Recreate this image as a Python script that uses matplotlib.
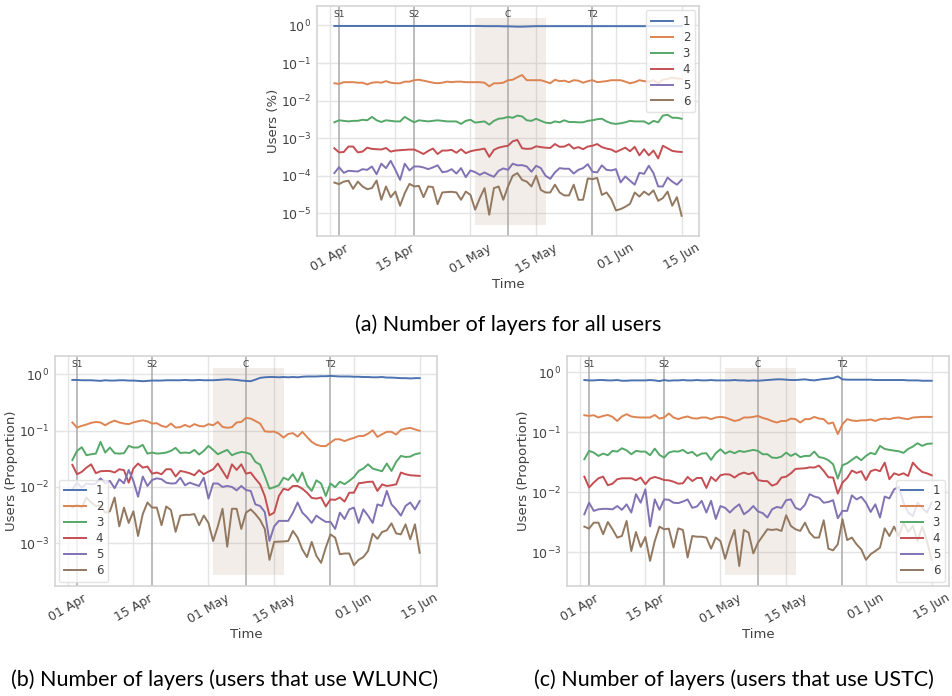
import matplotlib
matplotlib.use('Agg')
import matplotlib.pyplot as plt
import matplotlib.dates as mdates
import pandas as pd

# tanggal harian, 02 Apr - 15 Jun
dates = pd.date_range('2020-04-02', '2020-06-15', freq='D')

event_names = ['S1', 'S2', 'C', 'T2']
event_dates = ['2020-04-03', '2020-04-19', '2020-05-09', '2020-05-27']
shade_start, shade_end = '2020-05-02', '2020-05-17'
xtick_dates = ['2020-04-01', '2020-04-15', '2020-05-01', '2020-05-15', '2020-06-01', '2020-06-15']
layer_labels = ['1', '2', '3', '4', '5', '6']
colors = ['#4c72b0', '#dd8452', '#55a868', '#c44e52', '#8172b3', '#937860']

# (a) semua user
all_1 = [0.97, 0.97, 0.97, 0.97, 0.97, 0.97, 0.97, 0.97, 0.97, 0.97,
         0.97, 0.97, 0.97, 0.97, 0.97, 0.97, 0.97, 0.97, 0.97, 0.97,
         0.97, 0.97, 0.97, 0.97, 0.97, 0.97, 0.97, 0.97, 0.97, 0.97,
         0.97, 0.97, 0.96, 0.96, 0.96, 0.96, 0.95, 0.95, 0.94, 0.93,
         0.93, 0.94, 0.95, 0.96, 0.96, 0.96, 0.96, 0.96, 0.96, 0.96,
         0.96, 0.96, 0.96, 0.96, 0.96, 0.96, 0.96, 0.96, 0.96, 0.96,
         0.96, 0.96, 0.96, 0.96, 0.96, 0.96, 0.96, 0.96, 0.96, 0.96,
         0.96, 0.96, 0.96, 0.96, 0.96]
all_2 = [.029, .028, .031, .031, .031, .030, .030, .027, .030, .031,
         .030, .033, .030, .029, .029, .032, .032, .035, .036, .034,
         .032, .030, .029, .030, .032, .031, .032, .032, .031, .031,
         .031, .031, .030, .024, .029, .029, .030, .035, .036, .042,
         .048, .035, .035, .035, .035, .032, .029, .036, .033, .034,
         .031, .035, .034, .030, .033, .035, .031, .032, .033, .035,
         .035, .035, .032, .029, .031, .035, .033, .032, .035, .029,
         .036, .038, .041, .039, .038]
all_3 = [.00265, .0030, .0029, .0028, .0029, .0029, .0031, .0030, .0037, .0030,
         .0027, .0030, .0029, .0028, .0028, .0037, .0031, .00265, .0030, .0029,
         .0028, .0029, .0030, .0029, .0028, .0028, .0028, .0024, .0029, .0031,
         .0026, .0027, .0028, .0023, .0029, .0033, .0034, .0037, .0035, .0040,
         .0038, .0030, .0029, .0033, .0029, .0026, .0025, .0028, .00265, .0030,
         .0027, .0027, .00265, .00265, .0029, .0030, .0032, .0033, .0028, .0025,
         .0024, .0025, .00265, .0029, .0028, .0028, .0028, .0024, .0029, .00265,
         .0040, .0042, .0035, .0035, .0033]
all_4 = [5.4e-4, 4.2e-4, 4.3e-4, 6.0e-4, 6.0e-4, 4.2e-4, 4.4e-4, 5.6e-4, 5.2e-4, 5.1e-4,
         5.0e-4, 5.5e-4, 4.4e-4, 4.7e-4, 4.8e-4, 4.9e-4, 5.0e-4, 5.0e-4, 4.4e-4, 3.8e-4,
         4.6e-4, 5.3e-4, 3.8e-4, 4.7e-4, 4.7e-4, 4.9e-4, 4.1e-4, 5.1e-4, 4.0e-4, 4.5e-4,
         4.8e-4, 5.0e-4, 5.3e-4, 3.2e-4, 4.9e-4, 5.6e-4, 6.0e-4, 6.3e-4, 8.3e-4, 9.0e-4,
         5.4e-4, 5.2e-4, 5.3e-4, 6.1e-4, 5.8e-4, 5.6e-4, 5.5e-4, 7.0e-4, 5.9e-4, 6.0e-4,
         6.9e-4, 5.3e-4, 5.8e-4, 5.1e-4, 6.0e-4, 6.3e-4, 7.0e-4, 5.8e-4, 5.3e-4, 5.0e-4,
         4.3e-4, 4.9e-4, 5.6e-4, 4.5e-4, 5.9e-4, 3.5e-4, 5.1e-4, 3.5e-4, 4.7e-4, 2.9e-4,
         6.3e-4, 5.4e-4, 4.6e-4, 4.4e-4, 4.3e-4]
all_5 = [1.18e-4, 1.7e-4, 1.2e-4, 1.36e-4, 1.33e-4, 1.3e-4, 1.5e-4, 1.44e-4, 1.77e-4, 1.1e-4,
         2.1e-4, 1.6e-4, 2.5e-4, 1.44e-4, 0.78e-4, 2.1e-4, 1.39e-4, 1.77e-4, 1.77e-4, 1.67e-4,
         1.5e-4, 1.67e-4, 1.9e-4, 1.25e-4, 1.3e-4, 1.5e-4, 1.15e-4, 1.6e-4, 0.92e-4, 1.39e-4,
         1.25e-4, 1.06e-4, 1.23e-4, 1.06e-4, 0.94e-4, 1.36e-4, 1.57e-4, 1.44e-4, 2.1e-4, 1.9e-4,
         1.92e-4, 1.77e-4, 1.28e-4, 1.85e-4, 1.6e-4, 1.0e-4, 0.83e-4, 1.23e-4, 1.6e-4, 1.54e-4,
         1.54e-4, 1.15e-4, 1.44e-4, 1.6e-4, 2.04e-4, 1.28e-4, 1.23e-4, 1.9e-4, 1.44e-4, 1.39e-4,
         1.5e-4, 0.665e-4, 0.96e-4, 0.74e-4, 0.58e-4, 1.2e-4, 1.13e-4, 1.85e-4, 1.18e-4, 0.52e-4,
         0.52e-4, 0.9e-4, 0.7e-4, 0.58e-4, 0.78e-4]
all_6 = [6.6e-5, 6.0e-5, 7.0e-5, 7.4e-5, 4.5e-5, 7.0e-5, 5.2e-5, 4.4e-5, 4.7e-5, 7.5e-5,
         2.3e-5, 5.2e-5, 2.7e-5, 3.8e-5, 1.6e-5, 3.45e-5, 6.1e-5, 5.2e-5, 5.4e-5, 2.7e-5,
         5.2e-5, 5.0e-5, 1.76e-5, 3.6e-5, 3.7e-5, 3.75e-5, 3.6e-5, 2.3e-5, 3.8e-5, 3.1e-5,
         1.25e-5, 2.55e-5, 4.7e-5, 0.92e-5, 4.7e-5, 5.2e-5, 2.3e-5, 5.2e-5, 10.0e-5, 11.8e-5,
         7.8e-5, 7.0e-5, 5.2e-5, 10.0e-5, 4.2e-5, 3.6e-5, 3.6e-5, 5.8e-5, 3.6e-5, 3.0e-5,
         3.0e-5, 5.8e-5, 2.3e-5, 2.3e-5, 8.5e-5, 8.15e-5, 8.8e-5, 3.1e-5, 3.6e-5, 2.4e-5,
         1.2e-5, 1.3e-5, 1.5e-5, 1.8e-5, 3.6e-5, 2.8e-5, 3.8e-5, 3.1e-5, 4.1e-5, 2.16e-5,
         2.55e-5, 3.8e-5, 1.6e-5, 2.7e-5, 0.86e-5]

# (b) user WLUNC
wlunc_1 = [.79, .79, .78, .78, .78, .77, .76, .78, .77, .77,
           .78, .78, .77, .77, .76, .75, .76, .77, .77, .77,
           .78, .78, .78, .78, .79, .78, .78, .79, .78, .78,
           .78, .79, .80, .81, .80, .79, .77, .76, .75, .80,
           .86, .88, .89, .89, .88, .89, .88, .89, .88, .90,
           .91, .91, .91, .92, .92, .93, .92, .91, .91, .91,
           .90, .90, .89, .89, .88, .88, .89, .87, .87, .86,
           .85, .85, .84, .85, .85]
wlunc_2 = [.139, .113, .121, .128, .137, .142, .139, .124, .139, .150,
           .139, .133, .130, .139, .146, .152, .146, .133, .135, .121,
           .115, .133, .113, .115, .126, .116, .130, .121, .118, .130,
           .124, .142, .116, .112, .115, .139, .142, .168, .163, .148,
           .133, .097, .095, .096, .088, .075, .087, .090, .078, .095,
           .077, .063, .056, .053, .053, .061, .070, .070, .065, .070,
           .074, .080, .080, .088, .101, .077, .086, .095, .095, .085,
           .103, .108, .112, .105, .099]
wlunc_3 = [.030, .0436, .0506, .0365, .038, .039, .063, .0407, .050, .0396,
           .039, .0396, .0535, .050, .050, .0557, .039, .0407, .039, .0396,
           .0407, .0436, .0493, .040, .0407, .040, .0454, .0375, .0436, .0535,
           .0454, .038, .0417, .0454, .0365, .0396, .0417, .0407, .038, .0278,
           .0249, .0157, .0093, .0099, .0107, .0146, .0133, .0168, .0123, .018,
           .0107, .0085, .0131, .0115, .0069, .0115, .0099, .0124, .0112, .0128,
           .015, .0192, .0212, .0252, .0212, .020, .019, .026, .0192, .0278,
           .0355, .034, .0345, .038, .0396]
wlunc_4 = [.0246, .0168, .0185, .022, .0252, .0175, .019, .0192, .0192, .018,
           .0206, .0198, .0119, .0212, .026, .022, .023, .0172, .018, .0168,
           .0206, .0206, .0153, .0192, .0185, .0175, .0161, .0198, .0168, .0187,
           .0206, .026, .0192, .0142, .0252, .020, .0252, .0172, .018, .014,
           .0111, .0069, .00314, .0035, .0069, .0093, .0088, .0104, .0104, .0093,
           .0079, .0064, .0062, .0065, .0045, .006, .0059, .0065, .0055, .0079,
           .0079, .0116, .0119, .0123, .0124, .0085, .0111, .0104, .0107, .0111,
           .018, .0168, .0161, .0159, .0157]
wlunc_5 = [.0091, .0119, .0097, .0115, .0111, .0115, .0142, .0116, .0128, .0095,
           .0137, .0116, .020, .0128, .0067, .0153, .0104, .0133, .0142, .0137,
           .0119, .0115, .0116, .0146, .0107, .0119, .0111, .0104, .0146, .0062,
           .0115, .0115, .010, .0104, .010, .0087, .0104, .0088, .0085, .0049,
           .0046, .0036, .0011, .002, .0025, .0025, .0025, .0035, .0053, .0035,
           .0029, .0023, .0031, .0027, .0024, .0024, .0018, .0035, .0027, .004,
           .0043, .0023, .004, .0031, .0023, .0049, .0046, .0085, .0049, .004,
           .0031, .0046, .0053, .004, .0056]
wlunc_6 = [.0043, .0049, .0043, .0065, .0053, .0046, .0047, .0035, .0037, .0065,
           .002, .0043, .0023, .0037, .00135, .0033, .0053, .0043, .0043, .0021,
           .0045, .0039, .0016, .0031, .0032, .0032, .0033, .0021, .0031, .0023,
           .0011, .002, .0041, .00087, .0041, .0041, .0018, .0035, .004, .0033,
           .0026, .0018, .00051, .00106, .00107, .00108, .0011, .00166, .00126, .00078,
           .00057, .00106, .0006, .00045, .00084, .00144, .00126, .00064, .00066, .00066,
           .00041, .00051, .00057, .00073, .00148, .0012, .00159, .0017, .00226, .0015,
           .00144, .00217, .00118, .00217, .00068]

# (c) user USTC
ustc_1 = [.74, .73, .73, .74, .74, .73, .73, .74, .72, .72,
          .73, .73, .73, .73, .74, .73, .71, .74, .72, .73,
          .73, .74, .73, .73, .74, .73, .73, .74, .73, .73,
          .73, .73, .74, .73, .73, .72, .73, .72, .73, .74,
          .75, .76, .76, .75, .74, .74, .75, .76, .74, .73,
          .75, .77, .78, .80, .85, .76, .75, .75, .75, .75,
          .75, .75, .74, .74, .74, .74, .74, .74, .74, .73,
          .73, .73, .72, .72, .72]
ustc_2 = [.192, .187, .192, .176, .187, .194, .180, .154, .183, .200,
          .183, .178, .176, .176, .176, .194, .169, .176, .205, .176,
          .165, .176, .183, .171, .169, .176, .176, .165, .176, .180,
          .176, .165, .154, .160, .176, .176, .180, .187, .173, .165,
          .153, .145, .154, .154, .169, .165, .145, .165, .165, .180,
          .169, .165, .139, .145, .093, .136, .165, .157, .154, .158,
          .158, .163, .154, .165, .169, .165, .173, .176, .169, .165,
          .176, .178, .180, .180, .180]
ustc_3 = [.0355, .0489, .0458, .0403, .0441, .0414, .0489, .0476, .0541, .050,
          .043, .0489, .0476, .0476, .0414, .0534, .0419, .0378, .0458, .0482,
          .0476, .0508, .0447, .047, .0403, .0441, .0447, .0346, .0447, .0521,
          .0441, .0482, .0447, .0489, .047, .0489, .0508, .0489, .043, .043,
          .0378, .0373, .0393, .0458, .0403, .0441, .0385, .0403, .0403, .0476,
          .0385, .0373, .0342, .0293, .0169, .0282, .0304, .0346, .0393, .0342,
          .0403, .0453, .043, .0592, .0527, .0508, .0494, .0482, .0453, .0527,
          .0577, .0656, .0592, .064, .0648]
ustc_4 = [.0182, .012, .0145, .0171, .0182, .0131, .0139, .0165, .0171, .0171,
          .0171, .0158, .0176, .0136, .0169, .018, .0171, .016, .0158, .015,
          .0139, .0141, .018, .0154, .0173, .0173, .0118, .018, .0154, .0192,
          .020, .0197, .0176, .020, .0213, .020, .0213, .016, .0154, .0153,
          .0129, .0138, .0176, .0182, .0207, .0245, .0248, .0251, .026, .0258,
          .0278, .0227, .0178, .0176, .0095, .0145, .0173, .023, .021, .0224,
          .016, .0224, .0239, .0224, .0312, .0165, .0207, .0194, .0207, .0187,
          .0312, .0254, .0218, .0207, .0192]
ustc_5 = [.0043, .0067, .0049, .0052, .0053, .0053, .0052, .0059, .0051, .0063,
          .0046, .0093, .0067, .0112, .0027, .0076, .0051, .0076, .0075, .0067,
          .0066, .007, .0076, .0055, .0058, .0072, .0046, .0072, .0036, .0059,
          .0055, .0046, .0055, .0063, .0043, .0049, .0059, .0048, .0045, .0038,
          .0052, .0057, .0055, .0074, .0076, .0055, .0051, .0062, .0093, .0085,
          .0081, .0067, .0069, .0074, .0037, .0049, .0049, .0089, .0076, .0084,
          .0067, .0047, .0063, .0038, .0085, .0079, .0112, .0123, .0067, .0046,
          .004, .0067, .0055, .0046, .0067]
ustc_6 = [.00268, .00248, .00312, .00312, .002, .0032, .00242, .00176, .00187, .00333,
          .00105, .00218, .00123, .0018, .00072, .00154, .00268, .00242, .00248, .0012,
          .00251, .00236, .00082, .00187, .00182, .00182, .00176, .00115, .00176, .00154,
          .00078, .00145, .00236, .00059, .00236, .00213, .00096, .00145, .00187, .00242,
          .00236, .00242, .00227, .00414, .00275, .00242, .00227, .00312, .00213, .00176,
          .00176, .00342, .00115, .00108, .00136, .00355, .0016, .00176, .00136, .00112,
          .00075, .00093, .00105, .0012, .00251, .00187, .00268, .00187, .00312, .00218,
          .00275, .00154, .00268, .00154, .00075]

TEXT = '#404040'


# Fungsi untuk menggambar satu panel
def draw_panel(ax, series, ylabel, ylim, legend_loc):
    ax.set_facecolor('white')
    ax.axvspan(pd.Timestamp(shade_start), pd.Timestamp(shade_end), ymin=0.05, ymax=0.95,
               color='#a0785a', alpha=0.13, lw=0)
    for name, d in zip(event_names, event_dates):
        ax.axvline(pd.Timestamp(d), color='#b0b0b0', lw=1.2, zorder=1.5)
        ax.text(pd.Timestamp(d), 0.965, name, transform=ax.get_xaxis_transform(),
                ha='center', va='center', fontsize=6.5, color=TEXT)
    for vals, lab, c in zip(series, layer_labels, colors):
        ax.plot(dates, vals, color=c, lw=1.4, label=lab, zorder=2)
    ax.set_yscale('log')
    ax.set_ylim(*ylim)
    ax.set_xticks([pd.Timestamp(t) for t in xtick_dates])
    ax.xaxis.set_major_formatter(mdates.DateFormatter('%d %b'))
    ax.yaxis.set_minor_locator(matplotlib.ticker.NullLocator())
    ax.set_axisbelow(True)
    ax.grid(True, color='#e4e4e4', lw=1.0)
    for s in ax.spines.values():
        s.set_color('#d4d4d4')
        s.set_linewidth(1.2)
    ax.tick_params(length=0, labelsize=9, colors=TEXT, pad=4)
    plt.setp(ax.get_xticklabels(), rotation=30, ha='center')
    ax.set_xlabel('Time', fontsize=9.5, color=TEXT, labelpad=2)
    ax.set_ylabel(ylabel, fontsize=9.5, color=TEXT, labelpad=1)
    leg = ax.legend(loc=legend_loc, fontsize=8.5, labelspacing=0.25, handlelength=1.9,
                    framealpha=0.8, edgecolor='#dddddd', borderaxespad=0.35)
    for t in leg.get_texts():
        t.set_color(TEXT)


fig = plt.figure(figsize=(9.52, 6.96), dpi=100)

ax_a = fig.add_axes([317 / 952, 1 - 236 / 696, 382 / 952, 230 / 696])
draw_panel(ax_a, [all_1, all_2, all_3, all_4, all_5, all_6], 'Users (%)',
           (2.5e-6, 3.3), 'upper right')

ax_b = fig.add_axes([55 / 952, 1 - 586 / 696, 382 / 952, 230 / 696])
draw_panel(ax_b, [wlunc_1, wlunc_2, wlunc_3, wlunc_4, wlunc_5, wlunc_6], 'Users (Proportion)',
           (1.75e-4, 2.1), 'lower left')

ax_c = fig.add_axes([567 / 952, 1 - 586 / 696, 382 / 952, 230 / 696])
draw_panel(ax_c, [ustc_1, ustc_2, ustc_3, ustc_4, ustc_5, ustc_6], 'Users (Proportion)',
           (2.75e-4, 1.86), 'lower right')

# keterangan gambar
cap = dict(ha='center', va='center', fontsize=15.5, family=['Lato', 'DejaVu Sans'], color='black')
fig.text(508 / 952, 1 - 325 / 696, '(a) Number of layers for all users', **cap)
fig.text(225 / 952, 1 - 680 / 696, '(b) Number of layers (users that use WLUNC)', **cap)
fig.text(734 / 952, 1 - 680 / 696, '(c) Number of layers (users that use USTC)', **cap)

fig.savefig('out.png', dpi=100)
